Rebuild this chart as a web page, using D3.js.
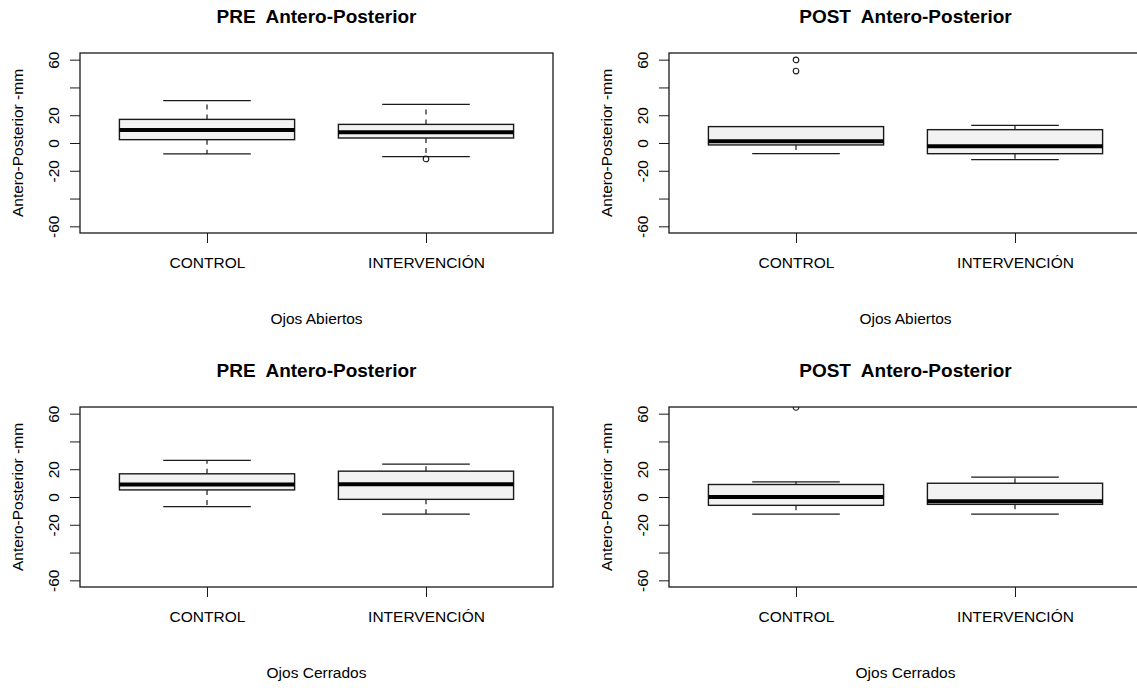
<!DOCTYPE html>
<html>
<head>
<meta charset="utf-8">
<script src="https://cdn.jsdelivr.net/npm/d3@7"></script>
<style>
	body { margin: 0; background: #fff; }
	text { font-family: Arial, "Liberation Sans", sans-serif; fill: #000; }
</style>
</head>
<body>
<div id="chart-area"></div>
<script>
// group names and y ticks
const groups = ["CONTROL", "INTERVENCIÓN"];
const yTicks = [-60, -40, -20, 0, 20, 40, 60];
const yTickLabels = [-60, -20, 0, 20, 60];

// box stats per panel: lower whisker, Q1, median, Q3, upper whisker, outliers
const preAbiertos = [
	{ lo: -7.9, q1: 2.4, med: 9.4, q3: 17.0, hi: 30.5, out: [] },
	{ lo: -9.8, q1: 3.6, med: 7.7, q3: 13.4, hi: 27.8, out: [-11.5] }
];
const postAbiertos = [
	{ lo: -7.6, q1: -1.4, med: 1.2, q3: 11.8, hi: 11.8, out: [51.8, 59.8] },
	{ lo: -12.0, q1: -7.7, med: -2.4, q3: 9.6, hi: 12.7, out: [] }
];
const preCerrados = [
	{ lo: -7.0, q1: 5.1, med: 9.0, q3: 16.7, hi: 26.4, out: [] },
	{ lo: -12.3, q1: -1.7, med: 9.2, q3: 18.6, hi: 23.7, out: [] }
];
const postCerrados = [
	{ lo: -12.3, q1: -6.0, med: 0.0, q3: 9.0, hi: 10.9, out: [64.5] },
	{ lo: -12.3, q1: -5.3, med: -3.1, q3: 9.9, hi: 14.3, out: [] }
];

const panels = [
	{ title: "PRE  Antero-Posterior", xlab: "Ojos Abiertos", stats: preAbiertos, col: 0, row: 0 },
	{ title: "POST  Antero-Posterior", xlab: "Ojos Abiertos", stats: postAbiertos, col: 1, row: 0 },
	{ title: "PRE  Antero-Posterior", xlab: "Ojos Cerrados", stats: preCerrados, col: 0, row: 1 },
	{ title: "POST  Antero-Posterior", xlab: "Ojos Cerrados", stats: postCerrados, col: 1, row: 1 }
];

const W = 1137, H = 688;
const colStep = 589, rowStep = 354;
const margin = { left: 80, top: 53, right: 36 };
const width = 473;
const height = 180;

const svg = d3.select("#chart-area").append("svg")
	.attr("width", W)
	.attr("height", H)

const x = d3.scaleLinear()
	.domain([0.42, 2.58])
	.range([0, width])

const y = d3.scaleLinear()
	.domain([-64.8, 64.8])
	.range([height, 0])

const boxW = x(1.4) - x(1);
const capW = x(1.2) - x(1);
const ink = "#1a1a1a";

panels.forEach((p, pi) => {
	const outer = svg.append("g")
		.attr("transform", `translate(${p.col * colStep},${p.row * rowStep})`)

	// title
	outer.append("text")
		.attr("x", margin.left + width / 2)
		.attr("y", 23)
		.attr("text-anchor", "middle")
		.attr("font-size", "19px")
		.attr("font-weight", "bold")
		.style("white-space", "pre")
		.text(p.title)

	// y label
	outer.append("text")
		.attr("transform", `translate(23,${margin.top + height / 2}) rotate(-90)`)
		.attr("text-anchor", "middle")
		.attr("font-size", "15.5px")
		.text("Antero-Posterior -mm")

	// x label
	outer.append("text")
		.attr("x", margin.left + width / 2)
		.attr("y", 324)
		.attr("text-anchor", "middle")
		.attr("font-size", "15.5px")
		.text(p.xlab)

	const g = outer.append("g")
		.attr("transform", `translate(${margin.left},${margin.top})`)

	g.append("clipPath")
		.attr("id", "clip" + pi)
		.append("rect")
		.attr("width", width)
		.attr("height", height)

	// y axis
	const axisLeft = d3.axisLeft(y)
		.tickValues(yTicks)
		.tickSize(10)
		.tickFormat(d => yTickLabels.includes(d) ? d : "")
	const ya = g.append("g").call(axisLeft)
	ya.select(".domain").remove()
	ya.selectAll(".tick line").attr("stroke", ink)
	ya.selectAll(".tick text")
		.attr("font-size", "15.5px")
		.attr("font-family", "Arial, 'Liberation Sans', sans-serif")
		.attr("fill", "#000")
		.attr("transform", "rotate(-90)")
		.attr("x", 0)
		.attr("y", -21)
		.attr("dy", 0)
		.attr("text-anchor", "middle")

	// x axis
	const axisBottom = d3.axisBottom(x)
		.tickValues([1, 2])
		.tickSize(10)
		.tickPadding(14)
		.tickFormat(i => groups[i - 1])
	const xa = g.append("g")
		.attr("transform", `translate(0,${height})`)
		.call(axisBottom)
	xa.select(".domain").remove()
	xa.selectAll(".tick line").attr("stroke", ink)
	xa.selectAll(".tick text")
		.attr("font-size", "15.5px")
		.attr("font-family", "Arial, 'Liberation Sans', sans-serif")
		.attr("fill", "#000")

	const plot = g.append("g").attr("clip-path", `url(#clip${pi})`)

	const boxes = plot.selectAll("g.box")
		.data(p.stats)
		.enter()
		.append("g")
		.attr("class", "box")
		.attr("transform", (d, i) => `translate(${x(i + 1)},0)`)

	// dashed whiskers
	boxes.append("line")
		.attr("y1", d => y(d.q3)).attr("y2", d => y(d.hi))
		.attr("stroke", ink).attr("stroke-width", 1.2)
		.attr("stroke-dasharray", "5,5")
	boxes.append("line")
		.attr("y1", d => y(d.q1)).attr("y2", d => y(d.lo))
		.attr("stroke", ink).attr("stroke-width", 1.2)
		.attr("stroke-dasharray", "5,5")

	// caps
	boxes.append("line")
		.attr("x1", -capW).attr("x2", capW)
		.attr("y1", d => y(d.hi)).attr("y2", d => y(d.hi))
		.attr("stroke", ink).attr("stroke-width", 1.2)
	boxes.append("line")
		.attr("x1", -capW).attr("x2", capW)
		.attr("y1", d => y(d.lo)).attr("y2", d => y(d.lo))
		.attr("stroke", ink).attr("stroke-width", 1.2)

	// box
	boxes.append("rect")
		.attr("x", -boxW)
		.attr("width", 2 * boxW)
		.attr("y", d => y(d.q3))
		.attr("height", d => y(d.q1) - y(d.q3))
		.attr("fill", "#f2f2f2")
		.attr("stroke", ink)
		.attr("stroke-width", 1.4)

	// median
	boxes.append("line")
		.attr("x1", -boxW).attr("x2", boxW)
		.attr("y1", d => y(d.med)).attr("y2", d => y(d.med))
		.attr("stroke", "#000").attr("stroke-width", 4)

	// outliers
	boxes.selectAll("circle")
		.data(d => d.out)
		.enter()
		.append("circle")
		.attr("cy", v => y(v))
		.attr("r", 2.8)
		.attr("fill", "none")
		.attr("stroke", ink)
		.attr("stroke-width", 1.1)

	// frame
	g.append("rect")
		.attr("width", width)
		.attr("height", height)
		.attr("fill", "none")
		.attr("stroke", ink)
		.attr("stroke-width", 1.3)
})
</script>
</body>
</html>
